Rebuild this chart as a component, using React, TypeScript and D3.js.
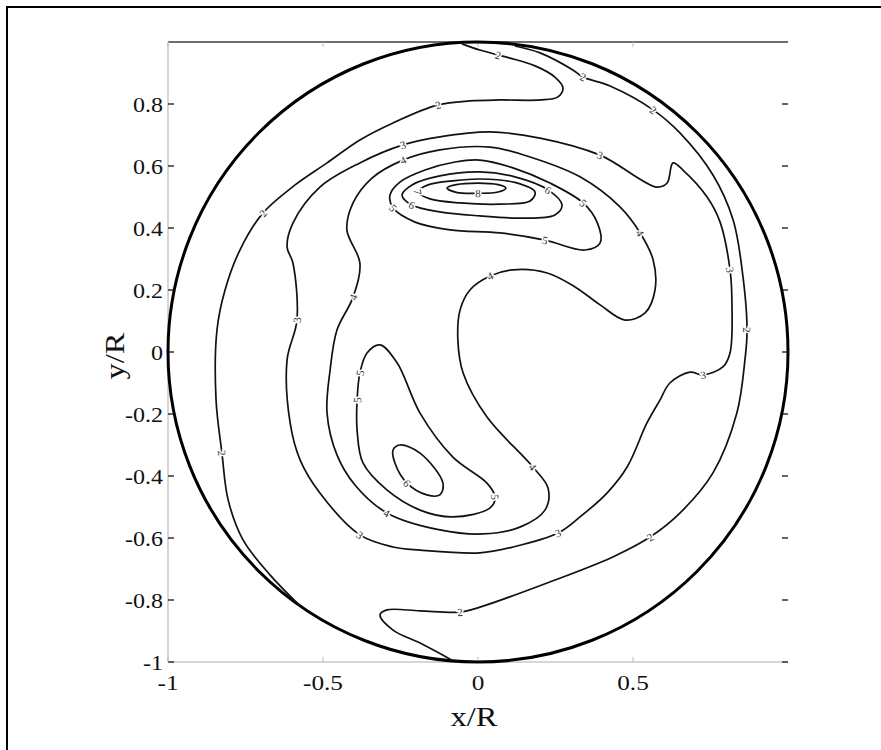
import React from "react";
import * as d3 from "d3";

type Pt = [number, number];

const xTicks = [-1, -0.5, 0, 0.5];
const yTicks = [-1, -0.8, -0.6, -0.4, -0.2, 0, 0.2, 0.4, 0.6, 0.8];

// contour lines, in (x/R, y/R)
const westLine: Pt[] = [
  [-0.574, -0.819], [-0.671, -0.719], [-0.758, -0.606], [-0.806, -0.477], [-0.826, -0.326],
  [-0.845, -0.155], [-0.842, 0.071], [-0.816, 0.2], [-0.768, 0.329], [-0.694, 0.448],
  [-0.59, 0.539], [-0.487, 0.61], [-0.381, 0.684], [-0.274, 0.739], [-0.129, 0.797],
  [-0.026, 0.81], [0.071, 0.813], [0.2, 0.813], [0.258, 0.823], [0.274, 0.852],
  [0.248, 0.887], [0.184, 0.923], [0.103, 0.948], [0.065, 0.958], [0.006, 0.974], [-0.052, 0.994],
];
const eastLine: Pt[] = [
  [0.119, 0.987], [0.2, 0.965], [0.306, 0.91], [0.339, 0.887], [0.426, 0.858],
  [0.565, 0.781], [0.652, 0.706], [0.758, 0.571], [0.823, 0.426], [0.852, 0.265],
  [0.868, 0.071], [0.861, -0.026], [0.835, -0.197], [0.758, -0.39], [0.652, -0.519],
  [0.555, -0.597], [0.435, -0.661], [0.223, -0.745], [0.006, -0.823], [-0.058, -0.839],
  [-0.187, -0.835], [-0.294, -0.832], [-0.316, -0.848], [-0.274, -0.897], [-0.187, -0.939], [-0.084, -0.994],
];
const ring3: Pt[] = [
  [0.039, 0.71], [0.2, 0.69], [0.394, 0.635], [0.577, 0.532], [0.61, 0.545],
  [0.629, 0.61], [0.661, 0.587], [0.739, 0.5], [0.781, 0.419], [0.813, 0.265],
  [0.819, 0.168], [0.813, -0.003], [0.79, -0.048], [0.726, -0.074], [0.684, -0.065],
  [0.619, -0.1], [0.587, -0.155], [0.545, -0.229], [0.481, -0.371], [0.416, -0.455],
  [0.329, -0.532], [0.258, -0.584], [0.113, -0.629], [0.006, -0.648], [-0.187, -0.639],
  [-0.274, -0.629], [-0.381, -0.59], [-0.51, -0.455], [-0.574, -0.348], [-0.606, -0.229],
  [-0.616, -0.026], [-0.584, 0.103], [-0.597, 0.287], [-0.616, 0.339], [-0.597, 0.416],
  [-0.51, 0.532], [-0.381, 0.61], [-0.242, 0.668], [-0.123, 0.694],
];
const ring4: Pt[] = [
  [0.039, 0.661], [0.168, 0.629], [0.329, 0.565], [0.458, 0.468], [0.523, 0.384],
  [0.565, 0.297], [0.571, 0.2], [0.539, 0.126], [0.474, 0.103], [0.394, 0.152],
  [0.313, 0.21], [0.223, 0.255], [0.113, 0.265], [0.039, 0.245], [-0.026, 0.2],
  [-0.058, 0.135], [-0.065, 0.039], [-0.048, -0.068], [0.029, -0.21], [0.177, -0.371],
  [0.226, -0.439], [0.216, -0.51], [0.135, -0.565], [0.016, -0.587], [-0.123, -0.574],
  [-0.294, -0.519], [-0.397, -0.429], [-0.455, -0.332], [-0.487, -0.197], [-0.477, -0.058],
  [-0.455, 0.071], [-0.403, 0.177], [-0.381, 0.287], [-0.423, 0.394], [-0.403, 0.481],
  [-0.342, 0.561], [-0.242, 0.619], [-0.123, 0.652],
];
const core5: Pt[] = [
  [0.006, 0.619], [0.113, 0.594], [0.232, 0.545], [0.339, 0.481], [0.384, 0.419],
  [0.394, 0.352], [0.345, 0.329], [0.216, 0.361], [0.071, 0.384], [-0.09, 0.394],
  [-0.203, 0.419], [-0.274, 0.465], [-0.284, 0.506], [-0.252, 0.548], [-0.171, 0.587], [-0.074, 0.613],
];
const core6: Pt[] = [
  [0.006, 0.581], [0.119, 0.565], [0.226, 0.523], [0.271, 0.474], [0.248, 0.442],
  [0.135, 0.432], [0.006, 0.439], [-0.123, 0.452], [-0.213, 0.474], [-0.245, 0.506],
  [-0.213, 0.539], [-0.123, 0.568],
];
const core7: Pt[] = [
  [0.006, 0.558], [0.119, 0.547], [0.184, 0.516], [0.168, 0.487], [0.071, 0.477],
  [-0.058, 0.481], [-0.155, 0.494], [-0.194, 0.516], [-0.161, 0.539], [-0.074, 0.553],
];
const core8: Pt[] = [
  [0.0, 0.545], [0.065, 0.54], [0.09, 0.529], [0.065, 0.516], [0.0, 0.512],
  [-0.07, 0.515], [-0.1, 0.529], [-0.07, 0.54],
];
const lobe5: Pt[] = [
  [-0.316, 0.023], [-0.261, -0.035], [-0.187, -0.197], [-0.081, -0.339], [0.029, -0.423],
  [0.055, -0.468], [0.039, -0.503], [-0.081, -0.532], [-0.187, -0.51], [-0.294, -0.445],
  [-0.371, -0.358], [-0.39, -0.252], [-0.39, -0.155], [-0.381, -0.068], [-0.358, -0.003],
];
const lobe6: Pt[] = [
  [-0.252, -0.3], [-0.187, -0.326], [-0.113, -0.423], [-0.123, -0.461], [-0.165, -0.461],
  [-0.229, -0.423], [-0.268, -0.358], [-0.274, -0.316],
];

const contours = [
  { pts: westLine, level: 2, closed: false, labels: [4, 9, 14, 23] },
  { pts: eastLine, level: 2, closed: false, labels: [3, 5, 10, 15, 19] },
  { pts: ring3, level: 3, closed: true, labels: [2, 9, 13, 21, 26, 31, 37] },
  { pts: ring4, level: 4, closed: true, labels: [4, 13, 19, 25, 31, 36] },
  { pts: core5, level: 5, closed: true, labels: [3, 7, 11] },
  { pts: core6, level: 6, closed: true, labels: [2, 8] },
  { pts: core7, level: 7, closed: true, labels: [7] },
  { pts: core8, level: 8, closed: true, labels: [4] },
  { pts: lobe5, level: 5, closed: true, labels: [5, 12, 13] },
  { pts: lobe6, level: 6, closed: true, labels: [5] },
];

const serif = "'Liberation Serif', 'DejaVu Serif', serif";

export default function App() {
  const width = 881;
  const height = 750;

  const x = d3.scaleLinear().domain([-1, 1]).range([168, 788]);
  const y = d3.scaleLinear().domain([-1, 1]).range([662, 42]);

  const openLine = d3.line<Pt>().x(d => x(d[0])).y(d => y(d[1])).curve(d3.curveCatmullRom.alpha(0.5));
  const closedLine = d3.line<Pt>().x(d => x(d[0])).y(d => y(d[1])).curve(d3.curveCatmullRomClosed.alpha(0.5));

  function labelPose(pts: Pt[], i: number, closed: boolean) {
    const n = pts.length;
    const a = closed ? pts[(i - 1 + n) % n] : pts[Math.max(0, i - 1)];
    const b = closed ? pts[(i + 1) % n] : pts[Math.min(n - 1, i + 1)];
    let ang = (Math.atan2(y(b[1]) - y(a[1]), x(b[0]) - x(a[0])) * 180) / Math.PI;
    if (ang > 90) ang -= 180;
    if (ang < -90) ang += 180;
    return { px: x(pts[i][0]), py: y(pts[i][1]), ang };
  }

  return (
    <svg width={width} height={height} style={{ position: "absolute", left: 0, top: 0, background: "#fff" }}>
      {/* figure frame, only left and top edges are visible */}
      <line x1={7} y1={6} x2={7} y2={height} stroke="#000" strokeWidth={2} />
      <line x1={6} y1={7} x2={width} y2={7} stroke="#000" strokeWidth={2} />

      {/* axes box */}
      <line x1={x(-1)} y1={y(1)} x2={x(1)} y2={y(1)} stroke="#6e6e6e" strokeWidth={2} />
      <line x1={x(-1)} y1={y(1)} x2={x(-1)} y2={y(-1)} stroke="#c8c8c8" strokeWidth={1.5} />
      <line x1={x(-1)} y1={y(-1)} x2={x(1)} y2={y(-1)} stroke="#c8c8c8" strokeWidth={1.5} />

      {yTicks.map(t => (
        <g key={"y" + t}>
          <line x1={x(-1)} x2={x(-1) + 6} y1={y(t)} y2={y(t)} stroke="#333" strokeWidth={1.5} />
          <line x1={x(1) - 6} x2={x(1)} y1={y(t)} y2={y(t)} stroke="#333" strokeWidth={1.5} />
          <text
            transform={`translate(${x(-1) - 5},${y(t) + 8}) scale(1.2,1)`}
            textAnchor="end"
            fontFamily={serif}
            fontSize={20}
            fill="#111"
          >
            {String(t)}
          </text>
        </g>
      ))}
      {xTicks.map(t => (
        <g key={"x" + t}>
          <line x1={x(t)} x2={x(t)} y1={y(-1)} y2={y(-1) - 5} stroke="#bbb" strokeWidth={1} />
          <line x1={x(t)} x2={x(t)} y1={y(1)} y2={y(1) + 5} stroke="#bbb" strokeWidth={1} />
          <text
            transform={`translate(${x(t)},${y(-1) + 28}) scale(1.15,1)`}
            textAnchor="middle"
            fontFamily={serif}
            fontSize={22}
            fill="#111"
          >
            {String(t)}
          </text>
        </g>
      ))}

      <text
        transform={`translate(${x(0) - 4},${726}) scale(1.2,1)`}
        textAnchor="middle"
        fontFamily={serif}
        fontSize={27}
        fill="#111"
      >
        x/R
      </text>
      <text
        transform={`translate(${124},${y(0) + 4}) rotate(-90) scale(1.2,1)`}
        textAnchor="middle"
        fontFamily={serif}
        fontSize={27}
        fill="#111"
      >
        y/R
      </text>

      {/* wall */}
      <circle cx={x(0)} cy={y(0)} r={x(1) - x(0)} fill="none" stroke="#000" strokeWidth={3} />

      {/* contour lines */}
      {contours.map((c, k) => (
        <path
          key={"c" + k}
          d={(c.closed ? closedLine : openLine)(c.pts) || ""}
          fill="none"
          stroke="#111"
          strokeWidth={1.7}
        />
      ))}
      {contours.map((c, k) =>
        c.labels.map(i => {
          const p = labelPose(c.pts, i, c.closed);
          return (
            <text
              key={"l" + k + "-" + i}
              transform={`translate(${p.px},${p.py}) rotate(${p.ang})`}
              textAnchor="middle"
              dominantBaseline="central"
              fontFamily={serif}
              fontSize={11}
              fill="#333"
              stroke="#fff"
              strokeWidth={3}
              paintOrder="stroke"
            >
              {c.level}
            </text>
          );
        })
      )}
    </svg>
  );
}
